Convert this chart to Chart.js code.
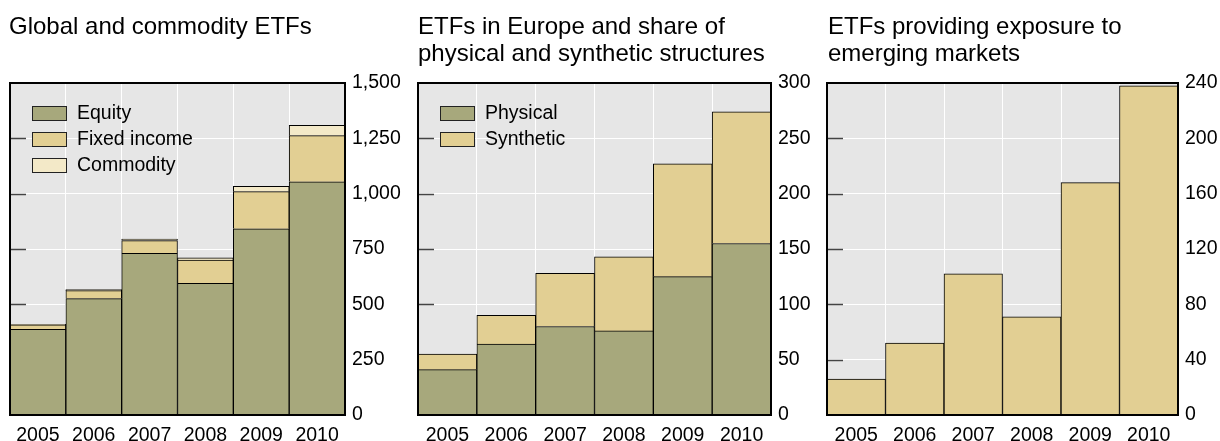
<!DOCTYPE html>
<html>
<head>
<meta charset="utf-8">
<script src="https://cdn.jsdelivr.net/npm/chart.js@4.4.1/dist/chart.umd.min.js"></script>
<style>
body { margin: 0; background: #fff; overflow: hidden; }
#wrap { position: relative; width: 1220px; height: 441px; overflow: hidden; font-family: 'Liberation Sans', Arial, sans-serif; }
canvas { position: absolute; top: 0; }
.ttl { position: absolute; top: 12px; font-size: 24px; line-height: 27px; color: #000; white-space: nowrap; }
</style>
</head>
<body>
<div id="wrap">
  <canvas id="c1" width="408" height="447" style="left:0px"></canvas>
  <canvas id="c2" width="410" height="447" style="left:408px"></canvas>
  <canvas id="c3" width="402" height="447" style="left:818px"></canvas>
  <div class="ttl" style="left:9px">Global and commodity ETFs</div>
  <div class="ttl" style="left:418px">ETFs in Europe and share of<br>physical and synthetic structures</div>
  <div class="ttl" style="left:828px">ETFs providing exposure to<br>emerging markets</div>
</div>
<script>
// data
var years = ['2005', '2006', '2007', '2008', '2009', '2010'];

var equity      = [387, 526, 730, 595, 841, 1054];
var fixedIncome = [20, 36, 58, 105, 168, 208];
var commodity   = [3, 5, 7, 10, 24, 47];

var physical  = [41, 64, 80, 76, 125, 155];
var synthetic = [14, 26, 48, 67, 102, 119];

var emerging = [26, 52, 102, 71, 168, 238];

var globalTicks   = [0, 250, 500, 750, 1000, 1250, 1500];
var europeTicks   = [0, 50, 100, 150, 200, 250, 300];
var emergingTicks = [0, 40, 80, 120, 160, 200, 240];

var OLIVE = '#a7a87c';
var SAND  = '#e2cf93';
var CREAM = '#f3e9c8';

Chart.defaults.font.family = "'Liberation Sans', Arial, sans-serif";
Chart.defaults.font.size = 19.5;
Chart.defaults.color = '#000';

// grey plot background, little ticks on the left edge, frame and legend
var panelDeco = {
  id: 'panelDeco',
  beforeDraw: function (chart) {
    var a = chart.chartArea, ctx = chart.ctx;
    ctx.save();
    ctx.fillStyle = '#e6e6e6';
    ctx.fillRect(a.left, a.top, a.right - a.left, a.bottom - a.top);
    ctx.restore();
  },
  beforeDatasetsDraw: function (chart) {
    var a = chart.chartArea, ctx = chart.ctx, y = chart.scales.y;
    ctx.save();
    ctx.strokeStyle = '#444';
    ctx.lineWidth = 1.5;
    y.ticks.forEach(function (t) {
      if (t.value <= y.min || t.value >= y.max) return;
      var py = Math.round(y.getPixelForValue(t.value)) + 0.5;
      ctx.beginPath();
      ctx.moveTo(a.left, py);
      ctx.lineTo(a.left + 16, py);
      ctx.stroke();
    });
    ctx.restore();
  },
  afterDraw: function (chart, args, opts) {
    var a = chart.chartArea, ctx = chart.ctx;
    ctx.save();
    ctx.strokeStyle = '#000';
    ctx.lineWidth = 2;
    ctx.strokeRect(a.left, a.top, a.right - a.left, a.bottom - a.top);

    if (opts.legend) {
      ctx.font = "19.5px 'Liberation Sans', Arial, sans-serif";
      ctx.textBaseline = 'middle';
      ctx.textAlign = 'left';
      chart.data.datasets.forEach(function (ds, i) {
        var bx = a.left + 22, by = a.top + 23 + i * 26;
        ctx.fillStyle = ds.backgroundColor;
        ctx.fillRect(bx, by, 34, 14);
        ctx.strokeStyle = '#222';
        ctx.lineWidth = 1;
        ctx.strokeRect(bx + 0.5, by + 0.5, 34, 14);
        ctx.fillStyle = '#000';
        ctx.fillText(ds.label, bx + 45, by + 7.5);
      });
    }
    ctx.restore();
  }
};

function bars(label, data, colour) {
  return {
    label: label,
    data: data,
    backgroundColor: colour,
    borderColor: '#000',
    borderWidth: 1,
    barPercentage: 1,
    categoryPercentage: 1
  };
}

function makePanel(id, datasets, ticks, padLeft, axisW, legend) {
  return new Chart(document.getElementById(id), {
    type: 'bar',
    data: { labels: years, datasets: datasets },
    plugins: [panelDeco],
    options: {
      responsive: false,
      animation: false,
      layout: { padding: { left: padLeft, top: 83, right: 0, bottom: 0 } },
      plugins: {
        legend: { display: false },
        tooltip: { enabled: false },
        panelDeco: { legend: legend }
      },
      scales: {
        x: {
          stacked: true,
          grid: { color: '#fff', lineWidth: 1, offset: true, drawTicks: false },
          border: { display: false },
          ticks: { padding: 9, maxRotation: 0, autoSkip: false },
          afterFit: function (s) { s.height = 32; }
        },
        y: {
          stacked: true,
          position: 'right',
          min: ticks[0],
          max: ticks[ticks.length - 1],
          grid: { color: '#fff', lineWidth: 1, drawTicks: false },
          border: { display: false },
          ticks: { padding: 7 },
          afterBuildTicks: function (s) {
            s.ticks = ticks.map(function (v) { return { value: v }; });
          },
          afterFit: function (s) { s.width = axisW; }
        }
      }
    }
  });
}

makePanel('c1', [
  bars('Equity', equity, OLIVE),
  bars('Fixed income', fixedIncome, SAND),
  bars('Commodity', commodity, CREAM)
], globalTicks, 10, 63, true);

makePanel('c2', [
  bars('Physical', physical, OLIVE),
  bars('Synthetic', synthetic, SAND)
], europeTicks, 10, 47, true);

makePanel('c3', [
  bars('Emerging markets', emerging, SAND)
], emergingTicks, 9, 42, false);
</script>
</body>
</html>
